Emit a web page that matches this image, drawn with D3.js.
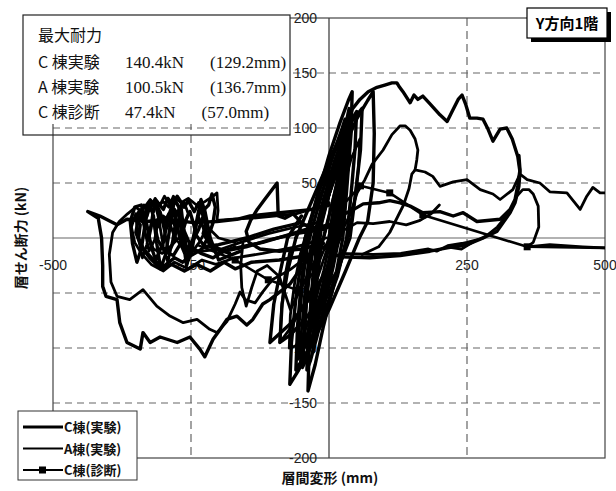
<!DOCTYPE html>
<html>
<head>
<meta charset="utf-8">
<script src="https://cdn.jsdelivr.net/npm/d3@7"></script>
<style>
  body { margin: 0; background: #fff; }
  svg { display: block; }
</style>
</head>
<body>
<svg id="chart" width="616" height="491"></svg>
<script>
// ---- data (displacement mm, shear kN) ----
var xTicks = [-500, -250, 250, 500];
var yTicks = [200, 150, 100, 50, -50, -100, -150, -200];
var xGrid = [-250, 250];
var yGrid = [150, 100, 50, -50, -100, -150];

// C棟(実験) – cycles in the core
var cCore1 = [[-20,0],[-5,30],[10,60],[22,80],[30,90],[28,60],[22,30],[15,0],[0,-30],[-15,-55],[-32,-82],[-45,-100],[-42,-65],[-36,-30],[-28,0]];
var cCore2 = [[-28,0],[-10,35],[10,70],[30,98],[50,115],[47,80],[40,40],[32,0],[15,-35],[-10,-70],[-35,-100],[-60,-120],[-57,-80],[-50,-40],[-40,0]];
var cCore3 = [[-40,0],[-20,40],[0,75],[20,105],[35,125],[42,133],[40,95],[33,50],[25,0],[10,-40],[-10,-80],[-25,-115],[-38,-139],[-36,-100],[-30,-55],[-22,0]];
var cCore4 = [[-22,0],[0,40],[25,80],[50,108],[70,125],[80,133],[82,95],[80,50],[70,15],[55,0],[30,-30],[0,-65],[-30,-95],[-55,-120],[-71,-133],[-68,-95],[-60,-55],[-50,-20],[-43,0]];
var cCore5 = [[-43,0],[-20,40],[10,78],[35,102],[60,118],[57,80],[48,40],[38,0],[15,-30],[-15,-55],[-45,-75],[-70,-88],[-89,-95],[-85,-60],[-75,-30],[-60,0]];
var cCore6 = [[-30,-10],[-15,15],[0,40],[15,60],[25,70],[22,40],[16,10],[8,-15],[-5,-40],[-18,-62],[-30,-80],[-27,-50],[-22,-20],[-15,5]];
var cCore7 = [[-60,0],[-30,35],[0,70],[20,92],[38,105],[35,70],[28,30],[20,0],[-5,-30],[-35,-55],[-70,-78],[-107,-95],[-100,-60],[-88,-30],[-75,0],[-50,20]];
var cCore8 = [[0,0],[10,30],[20,55],[17,30],[10,5],[0,-20],[-15,-50],[-30,-75],[-45,-95],[-56,-110],[-54,-75],[-48,-40],[-40,-10],[-30,10]];
var cCore9 = [[-30,10],[-10,45],[10,80],[24,100],[29,108],[27,80],[20,45],[12,10],[2,-20],[-12,-55],[-24,-85],[-29,-104],[-27,-75],[-22,-40],[-15,-10]];
var cCore10 = [[-15,-10],[0,20],[15,50],[28,75],[36,92],[34,65],[28,35],[20,5],[8,-25],[-8,-60],[-22,-90],[-34,-112],[-40,-120],[-38,-90],[-32,-55],[-24,-20],[-14,10]];
// C棟(実験) – large cycles
var cEnvelope = [[0,0],[11,35],[20,71],[29,99],[42,117],[56,126],[71,133],[87,137],[101,139],[114,141],[123,141],[128,137],[134,133],[143,126],[147,123],[154,130],[161,126],[170,129],[183,122],[201,112],[214,106],[223,115],[234,126],[241,130],[248,121],[255,109],[268,109],[279,108],[288,99],[297,88],[310,99],[322,100],[332,90],[342,74],[346,60],[344,47],[337,32],[328,23],[304,6],[274,-1],[250,-6],[214,-9],[183,-12],[129,-16],[74,-18],[20,-17],[0,-12]];
var cNegOuter = [[0,30],[-29,26],[-89,23],[-143,20],[-167,17],[-203,15],[-246,14],[-293,17],[-330,15],[-366,17],[-384,12],[-415,20],[-437,24],[-418,18],[-412,0],[-410,-25],[-410,-44],[-404,-53],[-384,-56],[-379,-77],[-366,-95],[-342,-101],[-337,-86],[-324,-95],[-306,-90],[-275,-95],[-252,-90],[-234,-101],[-225,-108],[-210,-92],[-197,-83],[-185,-74],[-167,-71],[-149,-79],[-138,-74],[-120,-60],[-107,-56],[-89,-49],[-71,-42],[-53,-29],[-31,-15],[-13,-4]];
var cTangle1 = [[0,-6],[-40,-16],[-90,-20],[-140,-22],[-170,-28],[-190,-22],[-215,-30],[-240,-24],[-262,-30],[-285,-24],[-305,-28],[-325,-18],[-340,-8],[-350,5],[-345,18],[-336,14],[-330,28],[-318,24],[-312,33],[-300,26],[-292,36],[-282,30],[-275,38],[-262,28],[-255,34],[-244,24],[-236,32],[-228,20],[-236,8],[-246,-2],[-258,-10],[-270,-6],[-282,-16],[-298,-12],[-310,-2],[-316,12],[-306,20],[-298,14],[-290,22],[-280,12],[-270,18],[-262,6],[-250,-8],[-232,-14],[-210,-18],[-190,-12],[-160,-8],[-120,-4],[-80,2],[-40,8],[0,12]];
var cTangle2 = [[-10,-5],[-50,-10],[-90,-12],[-125,-10],[-145,-4],[-150,6],[-142,16],[-130,26],[-118,34],[-106,42],[-94,50],[-93,35],[-92,20],[-80,18],[-65,22],[-50,14],[-30,8],[0,10]];
var cTangle3 = [[-10,8],[-60,4],[-110,-2],[-150,-8],[-190,-12],[-215,-6],[-228,4],[-222,14],[-230,24],[-218,30],[-212,40],[-206,28],[-210,14],[-218,2],[-230,-10],[-250,-16],[-265,-22],[-280,-18],[-300,-26],[-318,-20],[-336,-10],[-345,0],[-342,12],[-352,18],[-340,24],[-330,20],[-322,32],[-310,28],[-302,18],[-296,8],[-288,14],[-280,26],[-272,20],[-266,8],[-260,16],[-252,24],[-246,14],[-240,2],[-225,-8],[-200,-6],[-150,0],[-100,8],[-50,14]];
var cTangle4 = [[-160,-12],[-200,-20],[-215,0],[-225,25],[-232,35],[-240,15],[-250,-10],[-258,-25],[-265,0],[-272,28],[-280,35],[-288,10],[-296,-15],[-305,-28],[-312,-5],[-318,20],[-326,32],[-334,10],[-340,-10],[-348,-22],[-356,-5],[-360,15],[-352,28],[-340,30],[-330,12],[-322,-8],[-314,-20],[-300,-4],[-292,18],[-284,30],[-276,14],[-268,-6],[-258,-18],[-246,0],[-238,20],[-228,10],[-215,-8],[-180,-14]];
var cMidPos = [[20,20],[45,26],[62,31],[90,32],[110,34],[129,32],[147,29],[170,23],[201,24],[225,20],[243,23],[268,15],[310,17],[328,26],[337,35],[342,48],[346,62],[344,75]];

// A棟(実験)
var aCore1 = [[-10,0],[5,30],[18,60],[28,85],[32,100],[30,72],[24,40],[18,5],[5,-25],[-10,-55],[-28,-90],[-42,-112],[-48,-118],[-46,-85],[-40,-50],[-32,-15]];
var aCore2 = [[-32,-15],[-15,20],[5,55],[22,85],[36,118],[34,85],[28,50],[20,15],[8,-15],[-8,-45],[-24,-78],[-40,-105],[-52,-118],[-50,-85],[-44,-50],[-36,-15]];
var aCore3 = [[-36,-15],[-20,15],[0,45],[14,65],[28,90],[26,60],[20,30],[12,0],[0,-30],[-16,-65],[-32,-95],[-46,-110],[-44,-80],[-38,-45],[-30,-15]];
var aCore4 = [[-30,-15],[-15,15],[4,45],[14,68],[20,85],[18,55],[12,28],[4,0],[-10,-30],[-26,-60],[-44,-85],[-60,-98],[-72,-100],[-70,-70],[-62,-40],[-52,-15]];
var aCore5 = [[-52,-15],[-35,15],[-15,40],[5,62],[20,78],[18,50],[10,20],[0,-5],[-20,-35],[-45,-60],[-70,-82],[-89,-95],[-86,-65],[-80,-35],[-70,-10]];
var aCore6 = [[-5,-10],[10,15],[25,45],[40,72],[56,90],[53,62],[46,32],[36,5],[20,-25],[0,-50],[-20,-70],[-35,-85],[-33,-55],[-28,-25]];
var aLoopPos = [[2,-6],[20,3],[38,21],[51,41],[65,53],[78,67],[98,80],[114,94],[129,102],[138,102],[147,98],[156,90],[161,80],[159,71],[156,62],[174,60],[188,56],[201,47],[225,51],[250,53],[274,44],[297,40],[310,35],[333,44],[346,58],[359,53],[382,50],[400,42],[431,41],[455,26],[467,38],[478,46],[491,41],[505,41]];
var aRise = [[60,-15],[90,-8],[110,5],[125,20],[135,30],[145,45],[150,58],[156,62]];
var aLow = [[15,5],[30,8],[51,14],[80,13],[110,15],[140,12],[165,16],[185,22],[200,30]];
var aFinal = [[20,-14],[80,-15],[130,-14],[180,-10],[195,-12],[215,-7],[240,-5],[260,-4],[240,-10],[214,-8],[250,-4],[280,0],[305,10],[328,24],[340,38],[351,44],[362,44],[370,40],[379,29],[380,10],[370,-4],[359,-8],[400,-6],[460,-8],[505,-9]];
var aNegLoop = [[-34,-15],[-71,-29],[-103,-38],[-120,-49],[-134,-59],[-152,-56],[-161,-49],[-170,-60],[-185,-76],[-203,-86],[-216,-83],[-239,-74],[-264,-77],[-288,-71],[-312,-62],[-337,-47],[-361,-56],[-384,-53],[-395,-40],[-398,-15],[-392,5],[-380,15],[-365,22],[-350,28],[-340,24],[-324,35],[-312,29],[-300,33],[-290,28],[-282,38],[-268,32],[-255,36],[-240,30],[-225,33],[-210,38],[-203,41],[-201,25],[-203,16],[-180,17],[-140,18],[-100,20],[-60,22],[-20,28],[0,32]];
var aTangle = [[-5,0],[-60,-8],[-120,-14],[-170,-18],[-205,-24],[-230,-20],[-255,-28],[-280,-22],[-300,-30],[-322,-24],[-340,-14],[-352,-4],[-358,10],[-350,22],[-342,18],[-335,30],[-324,26],[-315,36],[-306,30],[-298,38],[-288,30],[-280,36],[-270,26],[-262,32],[-255,22],[-262,10],[-272,0],[-288,-8],[-302,-14],[-318,-10],[-326,0],[-320,14],[-310,10],[-300,20],[-290,16],[-282,4],[-270,-6],[-252,-12],[-230,-12],[-195,-10],[-160,-4],[-110,4],[-60,10],[-20,14]];
var aTangle2 = [[-170,-8],[-205,-14],[-222,6],[-230,28],[-238,18],[-246,-6],[-254,-20],[-262,4],[-268,30],[-276,22],[-284,-4],[-292,-22],[-300,-8],[-308,16],[-316,34],[-322,14],[-330,-6],[-338,-18],[-346,2],[-350,20],[-342,26],[-334,8],[-326,-12],[-316,-2],[-306,24],[-298,6],[-290,-14],[-280,-2],[-272,16],[-262,-4],[-250,-14],[-235,-4],[-220,10],[-200,0],[-170,-4]];
var aNegSpikes = [[-156,-5],[-160,-25],[-158,-45],[-150,-62],[-140,-45],[-130,-30],[-112,-25],[-90,-35],[-80,-50],[-70,-65],[-60,-55],[-45,-40],[-30,-25],[-15,-10]];

// C棟(診断)
var cDiagPos = [[0,0],[25,30],[57,47.4],[110,41],[170,21],[359,-8],[500,-9]];
var cDiagNeg = [[0,0],[-25,-30],[-57,-47.4],[-110,-38],[-170,-20],[-240,-6]];
var cDiagMarks = [[57,47.4],[110,41],[170,21],[359,-8],[-57,-47.4],[-110,-38],[-170,-20]];

var cTest = [cCore1, cCore2, cCore3, cCore4, cCore5, cCore6, cCore7, cCore8, cCore9, cCore10, cEnvelope, cNegOuter, cTangle1, cTangle2, cTangle3, cTangle4, cMidPos];
var aTest = [aCore1, aCore2, aCore3, aCore4, aCore5, aCore6, aLoopPos, aRise, aLow, aFinal, aNegLoop, aTangle, aTangle2, aNegSpikes];
var cDiag = [cDiagPos, cDiagNeg];

var statsTitle = "最大耐力";
var statsRows = [
  ["C 棟実験", "140.4kN", "(129.2mm)"],
  ["A 棟実験", "100.5kN", "(136.7mm)"],
  ["C 棟診断", "47.4kN", "(57.0mm)"]
];
var legendItems = ["C棟(実験)", "A棟(実験)", "C棟(診断)"];

// ---- drawing ----
var L = 53, R = 605, T = 18, B = 458;
var svg = d3.select("#chart");
var x = d3.scaleLinear().domain([-500, 500]).range([L, R]);
var y = d3.scaleLinear().domain([-200, 200]).range([B, T]);
var sans = "'Liberation Sans', Arial, sans-serif";
var serif = "'Liberation Serif', 'Times New Roman', serif";
var jp = "'Noto Sans CJK JP', sans-serif";

svg.append("defs").append("clipPath").attr("id", "plot")
  .append("rect").attr("x", L).attr("y", T).attr("width", R - L).attr("height", B - T);

var grid = svg.append("g");
grid.selectAll("line.h").data(yGrid).enter().append("line")
  .attr("x1", L).attr("x2", R).attr("y1", d => y(d)).attr("y2", d => y(d))
  .attr("stroke", "#666").attr("stroke-width", 1.2).attr("stroke-dasharray", "7,5");
grid.selectAll("line.v").data(xGrid).enter().append("line")
  .attr("y1", T).attr("y2", B).attr("x1", d => x(d)).attr("x2", d => x(d))
  .attr("stroke", "#666").attr("stroke-width", 1.2).attr("stroke-dasharray", "8,5");
grid.append("line").attr("x1", L).attr("x2", R).attr("y1", y(0)).attr("y2", y(0))
  .attr("stroke", "#999").attr("stroke-width", 1.5);
grid.append("line").attr("x1", x(0)).attr("x2", x(0)).attr("y1", T).attr("y2", B)
  .attr("stroke", "#333").attr("stroke-width", 1.2);
grid.append("rect").attr("x", L).attr("y", T).attr("width", R - L).attr("height", B - T)
  .attr("fill", "none").attr("stroke", "#444").attr("stroke-width", 1.2);

// tick labels sit on the axes, under the curves
svg.append("g").selectAll("text").data(xTicks).enter().append("text")
  .attr("x", d => x(d)).attr("y", y(0) + 32)
  .attr("text-anchor", "middle").attr("font-family", sans).attr("font-size", 14)
  .attr("fill", "#222").text(d => d);
svg.append("g").selectAll("text").data(yTicks).enter().append("text")
  .attr("x", x(0) - 12).attr("y", d => y(d) + 5)
  .attr("text-anchor", "end").attr("font-family", sans).attr("font-size", 14)
  .attr("fill", "#222").text(d => d);

var line = d3.line().x(d => x(d[0])).y(d => y(d[1]));
var data = svg.append("g").attr("clip-path", "url(#plot)");
data.selectAll("path.a").data(aTest).enter().append("path")
  .attr("d", line).attr("fill", "none").attr("stroke", "#000")
  .attr("stroke-width", 2.8).attr("stroke-linejoin", "round").attr("stroke-linecap", "round");
data.selectAll("path.c").data(cTest).enter().append("path")
  .attr("d", line).attr("fill", "none").attr("stroke", "#000")
  .attr("stroke-width", 3.4).attr("stroke-linejoin", "round").attr("stroke-linecap", "round");
data.selectAll("path.d").data(cDiag).enter().append("path")
  .attr("d", line).attr("fill", "none").attr("stroke", "#000")
  .attr("stroke-width", 2.6).attr("stroke-linejoin", "round");
data.selectAll("rect.m").data(cDiagMarks).enter().append("rect")
  .attr("x", d => x(d[0]) - 3.5).attr("y", d => y(d[1]) - 3.5)
  .attr("width", 7).attr("height", 7).attr("fill", "#000");

// stats box
var box = svg.append("g");
box.append("rect").attr("x", 23).attr("y", 15).attr("width", 267).attr("height", 109).attr("fill", "#fff");
box.append("rect").attr("x", 23).attr("y", 15).attr("width", 267).attr("height", 120)
  .attr("fill", "none").attr("stroke", "#222").attr("stroke-width", 1.2);
box.append("text").attr("x", 38).attr("y", 41).attr("font-family", jp).attr("font-size", 16)
  .attr("fill", "#111").text(statsTitle);
statsRows.forEach(function(r, i){
  var by = 68 + i * 25;
  box.append("text").attr("x", 38).attr("y", by).attr("font-family", jp).attr("font-size", 16)
    .attr("fill", "#111").text(r[0]);
  var v = box.append("text").attr("x", 125).attr("y", by).attr("font-family", serif).attr("font-size", 17)
    .attr("fill", "#111").text(r[1]);
  var px = 125 + v.node().getComputedTextLength() + 26;
  box.append("text").attr("x", px).attr("y", by).attr("font-family", serif).attr("font-size", 17)
    .attr("fill", "#111").text(r[2]);
});

// title box
var tb = svg.append("g");
tb.append("rect").attr("x", 531).attr("y", 12).attr("width", 80).attr("height", 30).attr("fill", "#000");
tb.append("rect").attr("x", 527).attr("y", 8).attr("width", 80).attr("height", 30)
  .attr("fill", "#fff").attr("stroke", "#000").attr("stroke-width", 1.2);
tb.append("text").attr("x", 567).attr("y", 29).attr("text-anchor", "middle")
  .attr("font-family", jp).attr("font-weight", "bold").attr("font-size", 15).attr("fill", "#000")
  .text("Y方向1階");

// legend
var lg = svg.append("g");
lg.append("rect").attr("x", 18).attr("y", 411).attr("width", 119).attr("height", 69)
  .attr("fill", "#fff").attr("stroke", "#333").attr("stroke-width", 1);
var widths = [3.2, 2.2, 2.2];
legendItems.forEach(function(s, i){
  var ly = 427 + i * 21.5;
  lg.append("line").attr("x1", 23).attr("x2", 63).attr("y1", ly).attr("y2", ly)
    .attr("stroke", "#000").attr("stroke-width", widths[i]);
  if (i === 2) lg.append("rect").attr("x", 39).attr("y", ly - 3.5).attr("width", 7).attr("height", 7).attr("fill", "#000");
  lg.append("text").attr("x", 64).attr("y", ly + 5).attr("font-family", jp).attr("font-weight", "bold")
    .attr("font-size", 13).attr("fill", "#111").text(s);
});

// axis titles
svg.append("text").attr("transform", "translate(26," + 238 + ") rotate(-90)")
  .attr("text-anchor", "middle").attr("font-family", jp).attr("font-weight", "bold")
  .attr("font-size", 14).attr("fill", "#111").text("層せん断力 (kN)");
svg.append("text").attr("x", 330).attr("y", 483).attr("text-anchor", "middle")
  .attr("font-family", jp).attr("font-weight", "bold").attr("font-size", 14)
  .attr("fill", "#111").text("層間変形 (mm)");
</script>
</body>
</html>
